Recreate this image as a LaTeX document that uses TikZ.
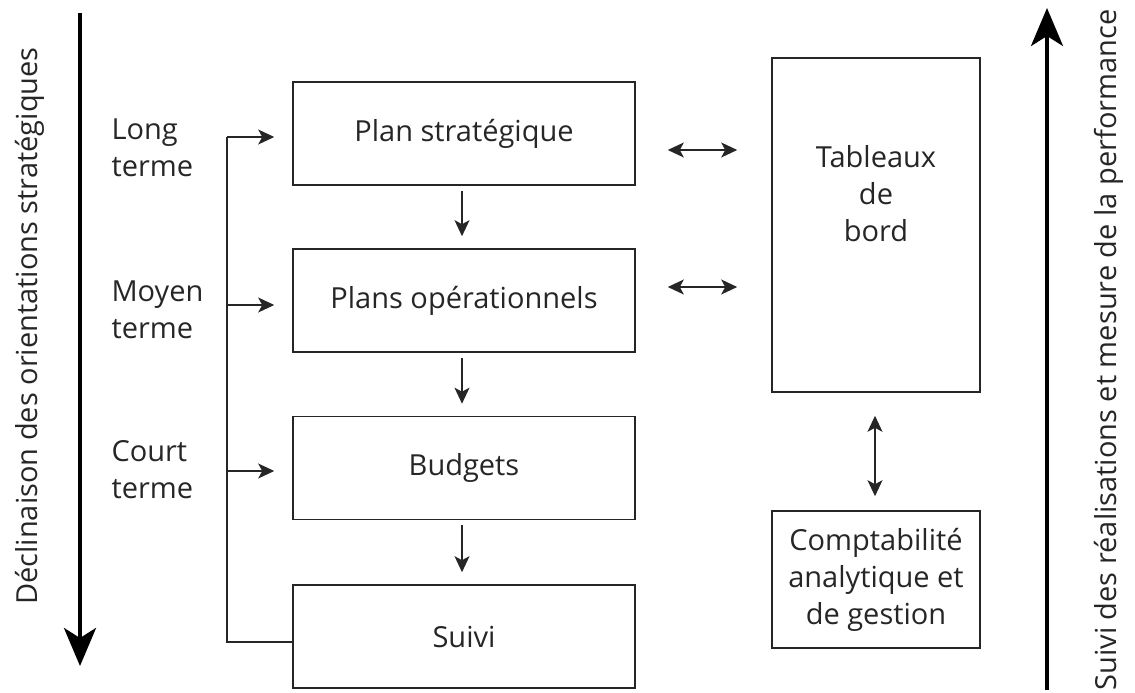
\documentclass[tikz,border=0pt]{standalone}
\usepackage{fontspec}
\setmainfont{Open Sans}
\usetikzlibrary{arrows.meta,calc}
\definecolor{ink}{HTML}{262626}
\begin{document}
\begin{tikzpicture}[x=1pt,y=-1pt,
  txt/.style={font=\fontsize{29}{37}\selectfont, text=ink, align=center},
  box/.style={draw=ink, line width=1.6pt, minimum width=342pt, minimum height=103pt,
              inner sep=0pt, txt},
  sidebox/.style={draw=ink, line width=1.6pt, minimum width=208pt, inner sep=0pt, txt},
  arr/.style={draw=ink, line width=1.4pt, -{Stealth[length=16pt,width=15pt,inset=4pt]}},
  dbl/.style={draw=ink, line width=1.4pt,
              {Stealth[length=16pt,width=15pt,inset=4pt]}-{Stealth[length=16pt,width=15pt,inset=4pt]}},
  bigarr/.style={draw=black, line width=4pt, -{Stealth[length=38pt,width=32pt,inset=10pt]}},
  termlab/.style={txt, align=left, anchor=west}
]
\useasboundingbox (0,0) rectangle (1135,693);

% main chain of plans
\node[box] (ps) at (464,133.5) {Plan stratégique};
\node[box] (po) at (464,300.5) {Plans opérationnels};
\node[box] (bu) at (464,468)   {Budgets};
\node[box] (su) at (464,636.5) {Suivi};

% dashboards and accounting
\node[sidebox, minimum height=334pt] (tb) at (876,225) {};
\node[txt] (tbt) at (876,194) {Tableaux\\de\\bord};
\node[sidebox, minimum height=137pt] (cg) at (876,579.5) {Comptabilité\\analytique et\\de gestion};

% horizon labels
\node[termlab] (lt) at (108,148) {Long\\terme};
\node[termlab] (mt) at (108,310) {Moyen\\terme};
\node[termlab] (ct) at (108,470) {Court\\terme};

% downward flow between plans
\draw[arr, shorten <=5pt, shorten >=12pt] ([xshift=-2pt]ps.south) -- ([xshift=-2pt]po.north);
\draw[arr, shorten <=5pt, shorten >=12pt] ([xshift=-2pt]po.south) -- ([xshift=-2pt]bu.north);
\draw[arr, shorten <=5pt, shorten >=12pt] ([xshift=-2pt]bu.south) -- ([xshift=-2pt]su.north);

% feedback bracket from follow-up to each horizon
\coordinate (k1) at (227,137);
\coordinate (k2) at (227,305);
\coordinate (k3) at (227,471);
\coordinate (k4) at (227,642);
\draw[draw=ink, line width=1.4pt] (su.west |- k4) -- (k4) -- (k1);
\draw[arr, shorten >=18pt] (k1) -- (ps.west |- k1);
\draw[arr, shorten >=18pt] (k2) -- (po.west |- k2);
\draw[arr, shorten >=18pt] (k3) -- (bu.west |- k3);

% exchanges with dashboards
\coordinate (e1) at ([yshift=-16.5pt]ps.east);
\coordinate (e2) at ([yshift=13.5pt]po.east);
\draw[dbl, shorten <=32pt, shorten >=34pt] (e1) -- (tb.west |- e1);
\draw[dbl, shorten <=32pt, shorten >=34pt] (e2) -- (tb.west |- e2);
\draw[dbl, shorten <=23pt, shorten >=14pt] ([xshift=-1pt]tb.south) -- ([xshift=-1pt]cg.north);

% side axes
\coordinate (dtop) at (80,13);
\coordinate (dbot) at (80,666);
\draw[bigarr] (dtop) -- (dbot);
\node[txt, rotate=90] (dlab) at (30,326) {Déclinaison des orientations stratégiques};

\coordinate (ubot) at (1047,690);
\coordinate (utop) at (1047,8);
\draw[bigarr, line width=3.5pt] (ubot) -- (utop);
\node[txt, rotate=90] (ulab) at (1109,350) {Suivi des réalisations et mesure de la performance};
\end{tikzpicture}
\end{document}
